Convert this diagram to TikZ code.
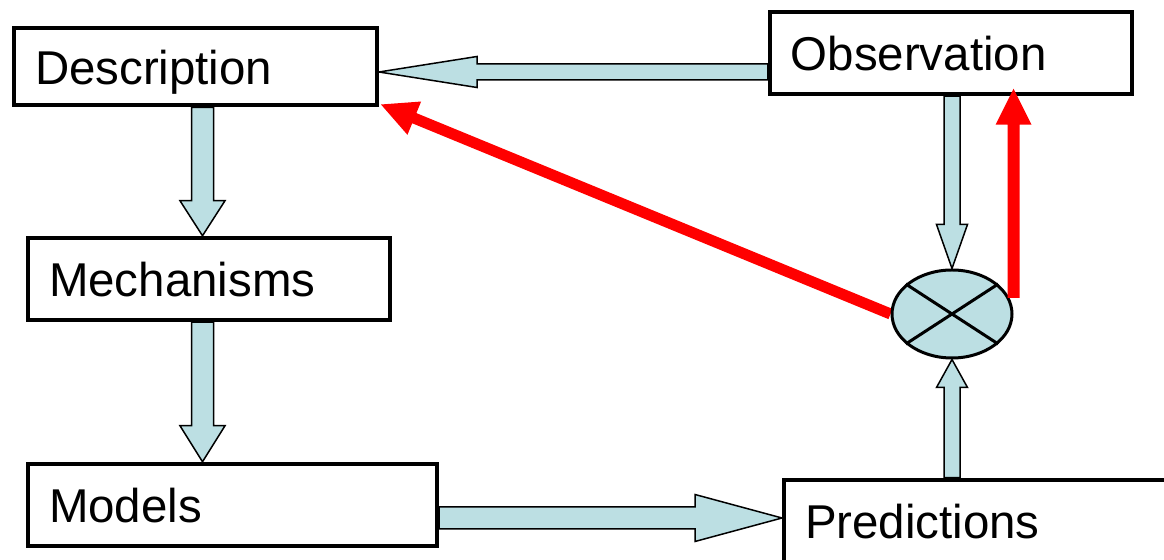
\documentclass[tikz,border=0pt]{standalone}
\usepackage{fontspec}
\setmainfont{Liberation Sans}
\usetikzlibrary{calc,shapes.geometric}
\pgfdeclarelayer{back}
\pgfsetlayers{back,main}
\definecolor{paleblue}{RGB}{188,223,227}
% block arrow: [style](from)(tip)(shaft half width:head half width:head length)
\def\fatarrow[#1](#2)(#3)(#4:#5:#6){\coordinate (neck) at ($(#3)!#6!(#2)$);
	\draw[#1] ($(#2)!#4!90:(#3)$) -- ($(neck)!#4!90:(#3)$) -- ($(neck)!#5!90:(#3)$) -- (#3) -- ($(neck)!#5!-90:(#3)$) -- ($(neck)!#4!-90:(#3)$) -- ($(#2)!#4!-90:(#3)$) -- cycle;}

\begin{document}
\begin{tikzpicture}[
		box/.style={draw, line width=0.08cm, fill=white, inner xsep=0.42cm, align=left, text depth=0pt, minimum height=1.65cm, font=\fontsize{27}{32}\selectfont},
		blockarrow/.style={draw=black, line width=0.03cm, fill=paleblue, line join=miter},
		redarrow/.style={fill=red, draw=none}
	]
		%%%%% START %%%%%
		\useasboundingbox (0, 0) rectangle (23.28, 11.2);
		
		\node[box, text width=6.42cm, minimum height=1.54cm] (desc) at (3.91, 9.86) {Description};
		\node[box, text width=6.41cm] (obs) at (19.02, 10.14) {Observation};
		\node[box, text width=6.40cm] (mech) at (4.18, 5.62) {Mechanisms};
		\node[box, text width=7.34cm] (models) at (4.65, 1.10) {Models};
		\node[box, text width=6.88cm] (pred) at (19.54, 0.78) {Predictions};
		
		\node[ellipse, draw, line width=0.06cm, fill=paleblue, minimum width=2.4cm, minimum height=1.76cm, inner sep=0pt] (cmp) at (19.04, 4.92) {};
		\draw[line width=0.06cm] (cmp.33) -- (cmp.213);
		\draw[line width=0.06cm] (cmp.147) -- (cmp.327);
		
		\coordinate (t1) at ($(desc.east)+(0,-0.1)$);
		\coordinate (d1) at ($(desc.south)+(0.14,0)$);
		\coordinate (m1) at ($(models.east)+(0,-0.26)$);
		
		\begin{pgfonlayer}{back}
			\fatarrow[blockarrow](obs.west |- t1)(t1)(0.16cm:0.31cm:1.96cm)
			\fatarrow[blockarrow](d1)(d1 |- mech.north)(0.22cm:0.45cm:0.70cm)
			\fatarrow[blockarrow](d1 |- mech.south)(d1 |- models.north)(0.22cm:0.45cm:0.72cm)
			\fatarrow[blockarrow](m1)(m1 -| pred.west)(0.22cm:0.47cm:1.74cm)
			\fatarrow[blockarrow](cmp.north |- obs.south)(cmp.north)(0.16cm:0.31cm:0.88cm)
			\fatarrow[blockarrow](cmp.south |- pred.north)(cmp.south)(0.16cm:0.31cm:0.56cm)
			
			\fatarrow[redarrow](cmp.west)($(desc.south east)+(0.04,0.06)$)(0.11cm:0.36cm:0.72cm)
		\end{pgfonlayer}
		
		\coordinate (r1) at ($(cmp.east)+(0,0.32)$);
		\coordinate (r2) at ($(r1 |- obs.south)+(0,0.15)$);
		\fatarrow[redarrow](r1)(r2)(0.12cm:0.36cm:0.72cm)
		
		%%%%% END %%%%%
	\end{tikzpicture}
\end{document}
